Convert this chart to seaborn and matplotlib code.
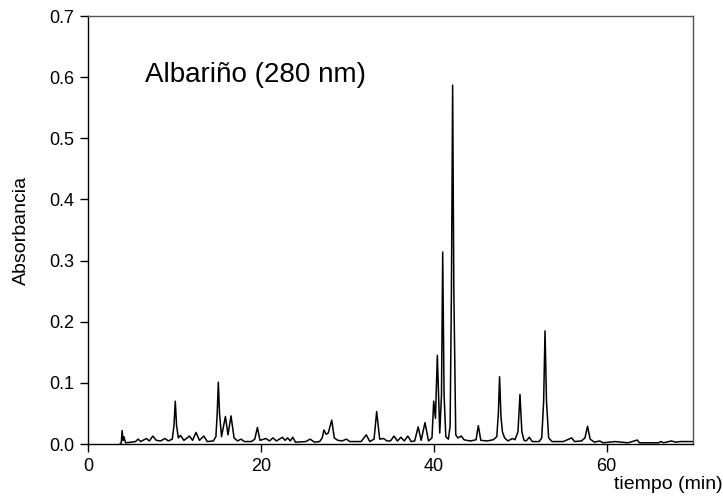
import pandas as pd
import matplotlib
matplotlib.use('Agg')
import matplotlib.pyplot as plt
import seaborn as sns

# Chromatogram trace (time in min, absorbance)
tiempo = [3.70, 3.85, 3.95, 4.05, 4.15, 4.35, 5.0, 5.5, 5.8, 6.1,
          6.75, 7.1, 7.5, 7.9, 8.4, 8.9, 9.3, 9.75, 9.95, 10.1,
          10.25, 10.45, 10.7, 11.1, 11.75, 12.1, 12.5, 12.9, 13.4, 13.8,
          14.5, 14.8, 14.95, 15.08, 15.22, 15.45, 15.9, 16.2, 16.55, 16.9,
          17.3, 17.7, 18.1, 18.9, 19.3, 19.6, 19.9, 20.6, 21.0, 21.4,
          21.8, 22.5, 22.8, 23.1, 23.4, 23.7, 24.0, 25.2, 25.7, 26.2,
          26.8, 27.1, 27.3, 27.55, 27.8, 28.2, 28.5, 28.9, 29.4, 29.9,
          30.3, 31.6, 32.2, 32.6, 33.1, 33.4, 33.75, 34.2, 34.6, 35.0,
          35.4, 35.8, 36.2, 36.6, 37.0, 37.4, 37.8, 38.2, 38.55, 38.99,
          39.4, 39.8, 40.0, 40.2, 40.42, 40.7, 40.9, 41.04, 41.2, 41.4,
          41.7, 41.9, 42.05, 42.19, 42.33, 42.55, 42.8, 43.2, 43.5, 43.8,
          44.3, 44.9, 45.16, 45.45, 46.2, 46.9, 47.3, 47.48, 47.62, 47.78,
          47.95, 48.2, 48.6, 49.1, 49.4, 49.75, 49.98, 50.2, 50.45, 50.7,
          51.06, 51.4, 52.2, 52.5, 52.72, 52.88, 53.05, 53.3, 53.7, 55.0,
          55.96, 56.3, 57.1, 57.5, 57.8, 58.1, 58.6, 59.2, 59.6, 61.0,
          62.5, 63.55, 63.8, 66.0, 66.3, 66.6, 67.5, 68.0, 68.5, 69.2,
          70.0]
absorbancia = [0.000, 0.002, 0.022, 0.006, 0.012, 0.002, 0.003, 0.004, 0.008, 0.004,
               0.009, 0.005, 0.013, 0.006, 0.005, 0.009, 0.005, 0.008, 0.030, 0.070,
               0.030, 0.010, 0.014, 0.006, 0.013, 0.006, 0.019, 0.006, 0.013, 0.004,
               0.005, 0.012, 0.050, 0.101, 0.050, 0.012, 0.045, 0.015, 0.046, 0.010,
               0.005, 0.008, 0.004, 0.004, 0.008, 0.027, 0.006, 0.009, 0.005, 0.010,
               0.005, 0.011, 0.006, 0.010, 0.005, 0.011, 0.003, 0.004, 0.008, 0.003,
               0.004, 0.010, 0.023, 0.016, 0.018, 0.039, 0.010, 0.006, 0.005, 0.008,
               0.004, 0.004, 0.015, 0.004, 0.008, 0.053, 0.008, 0.009, 0.005, 0.005,
               0.013, 0.005, 0.011, 0.005, 0.013, 0.004, 0.005, 0.028, 0.006, 0.035,
               0.005, 0.010, 0.070, 0.042, 0.145, 0.018, 0.080, 0.314, 0.080, 0.012,
               0.008, 0.030, 0.250, 0.587, 0.250, 0.015, 0.010, 0.013, 0.007, 0.006,
               0.005, 0.007, 0.030, 0.006, 0.005, 0.007, 0.012, 0.050, 0.110, 0.045,
               0.020, 0.010, 0.005, 0.009, 0.007, 0.020, 0.081, 0.020, 0.006, 0.005,
               0.011, 0.004, 0.004, 0.010, 0.070, 0.185, 0.070, 0.010, 0.004, 0.004,
               0.010, 0.004, 0.005, 0.010, 0.029, 0.008, 0.003, 0.005, 0.002, 0.004,
               0.002, 0.0065, 0.002, 0.002, 0.004, 0.002, 0.005, 0.003, 0.004, 0.004,
               0.004]

x_ticks = [0, 20, 40, 60]
y_ticks = [0.0, 0.1, 0.2, 0.3, 0.4, 0.5, 0.6, 0.7]

df = pd.DataFrame({'tiempo': tiempo, 'absorbancia': absorbancia})

sns.set_style('ticks')
plt.rcParams['font.family'] = ['Liberation Sans', 'DejaVu Sans']
plt.rcParams['text.color'] = 'black'

fig = plt.figure(figsize=(7.23, 4.99), dpi=100)
ax = fig.add_axes([0.1217, 0.1102, 0.8368, 0.8577])

sns.lineplot(data=df, x='tiempo', y='absorbancia', color='black',
             linewidth=1.1, ax=ax)

ax.set_xlim(0, 70)
ax.set_ylim(0, 0.7)
ax.set_xticks(x_ticks)
ax.set_yticks(y_ticks)
ax.set_yticklabels([f'{v:.1f}' for v in y_ticks])
ax.tick_params(direction='out', length=6, width=1, colors='black',
               labelsize=13, pad=4)

for side in ['left', 'bottom']:
    ax.spines[side].set_color('black')
    ax.spines[side].set_linewidth(1.0)
for side in ['top', 'right']:
    ax.spines[side].set_visible(True)
    ax.spines[side].set_color('#555555')
    ax.spines[side].set_linewidth(1.0)

ax.set_xlabel('')
ax.set_ylabel('Absorbancia', fontsize=14, color='black', labelpad=14)
fig.text(0.999, 0.03, 'tiempo (min)', ha='right', va='center', fontsize=14,
         color='black')

ax.text(19.4, 0.604, 'Albariño (280 nm)', fontsize=20, ha='center',
        va='center', color='black')

fig.savefig('out.png', dpi=100)
